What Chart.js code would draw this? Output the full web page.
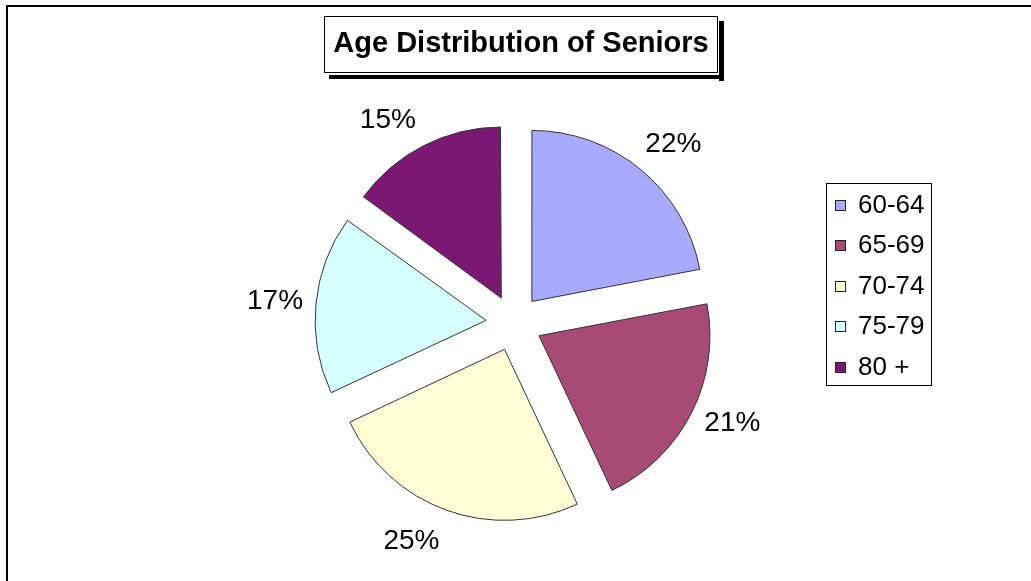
<!DOCTYPE html>
<html>
<head>
<meta charset="utf-8">
<title>Age Distribution of Seniors</title>
<script src="https://cdn.jsdelivr.net/npm/chart.js@4"></script>
<style>
    html, body { margin: 0; padding: 0; background: #fff; }
    canvas { display: block; }
</style>
</head>
<body>
<canvas id="ageChart" width="1031" height="581"></canvas>
<script>
const chartTitle = 'Age Distribution of Seniors';
const ageGroups = ['60-64', '65-69', '70-74', '75-79', '80 +'];
const shares = [22, 21, 25, 17, 15];
const sliceColors = ['#A9A9FD', '#A84A76', '#FFFDD6', '#D5FEFF', '#7B1874'];
// small turn (degrees) applied to each percent label around the pie
const labelTurn = [2, -2.5, 5.5, 0, -4.7];

const FONT = "'Liberation Sans', Arial, Helvetica, sans-serif";

// frame, boxed title with drop shadow, legend box and percent labels
const excelLook = {
    id: 'excelLook',
    afterDatasetUpdate(chart) {
        // chart.js grows narrow exploded slices a bit; keep all radii equal
        const ds = chart.data.datasets[0];
        const shift = ds.offset / 4;
        chart.getDatasetMeta(0).data.forEach(arc => {
            const fix = 1 - Math.sin(Math.min(Math.PI, arc.circumference));
            arc.outerRadius -= shift * fix;
        });
    },
    beforeDraw(chart) {
        const c = chart.ctx;
        c.save();
        c.strokeStyle = '#000';
        c.lineWidth = 2;
        c.strokeRect(7, 6, 1100, 700);
        c.restore();
    },
    afterDraw(chart) {
        const c = chart.ctx;
        c.save();

        // title
        c.font = 'bold 29px ' + FONT;
        const tw = c.measureText(chartTitle).width;
        const tx = 521, ty = 44;
        const bx = Math.round(tx - tw / 2 - 9), by = 16;
        const bw = Math.round(tw + 18), bh = 56;
        c.fillStyle = '#000';
        c.fillRect(bx + 5, by + bh + 3, bw + 1, 4);
        c.fillRect(bx + bw + 2, by + 5, 5, bh + 4);
        c.fillStyle = '#fff';
        c.fillRect(bx, by, bw, bh);
        c.strokeStyle = '#000';
        c.lineWidth = 1;
        c.strokeRect(bx + 0.5, by + 0.5, bw, bh);
        c.fillStyle = '#000';
        c.textAlign = 'center';
        c.textBaseline = 'middle';
        c.fillText(chartTitle, tx, ty);

        // legend
        const labels = chart.data.labels;
        const colors = chart.data.datasets[0].backgroundColor;
        c.strokeStyle = '#000';
        c.strokeRect(826.5, 183.5, 105, 202);
        c.font = '26px ' + FONT;
        c.textAlign = 'left';
        labels.forEach((lab, i) => {
            const cy = 204.5 + i * 40.6;
            c.fillStyle = colors[i];
            c.fillRect(835, Math.round(cy - 5), 11, 11);
            c.strokeStyle = '#222';
            c.strokeRect(835.5, Math.round(cy - 5) + 0.5, 10, 10);
            c.fillStyle = '#000';
            c.fillText(lab, 858, cy + 1);
        });

        // percent labels outside each exploded slice
        const meta = chart.getDatasetMeta(0);
        const data = chart.data.datasets[0].data;
        const total = data.reduce((a, b) => a + b, 0);
        c.font = '28px ' + FONT;
        c.textAlign = 'center';
        meta.data.forEach((arc, i) => {
            const p = arc.getProps(['x', 'y', 'startAngle', 'endAngle'], true);
            const mid = (p.startAngle + p.endAngle) / 2 + labelTurn[i] * Math.PI / 180;
            const d = 240;
            const pct = Math.round(data[i] / total * 100) + '%';
            c.fillText(pct, p.x + Math.cos(mid) * d, p.y + Math.sin(mid) * d + 1);
        });

        c.restore();
    }
};

const ctx = document.getElementById('ageChart').getContext('2d');
const ageChart = new Chart(ctx, {
    type: 'pie',
    data: {
        labels: ageGroups,
        datasets: [{
            data: shares,
            backgroundColor: sliceColors,
            borderColor: '#333',
            borderWidth: 1,
            offset: 112,
            radius: 171
        }]
    },
    options: {
        responsive: false,
        animation: false,
        layout: {
            padding: { left: 300, right: 303, top: 100, bottom: 35 }
        },
        plugins: {
            legend: { display: false },
            tooltip: { enabled: false },
            title: { display: false }
        }
    },
    plugins: [excelLook]
});
</script>
</body>
</html>
